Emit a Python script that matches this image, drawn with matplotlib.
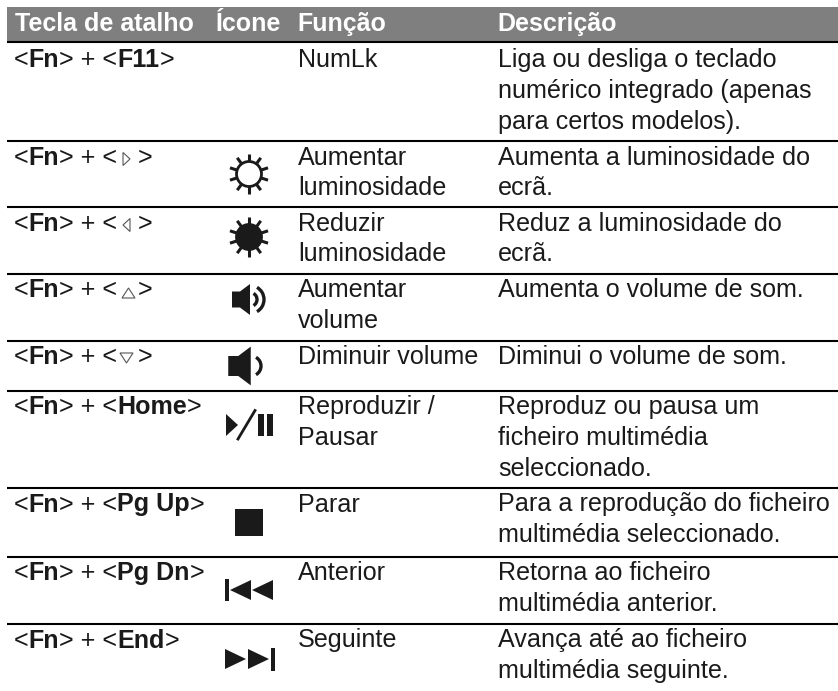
import numpy as np
import matplotlib
matplotlib.use('Agg')
import matplotlib.pyplot as plt
from matplotlib.patches import Rectangle, Polygon, Circle, Arc

# Dados da tabela
cabecalho = ['Tecla de atalho', 'Ícone', 'Função', 'Descrição']
teclas = ['F11', 'dir', 'esq', 'cima', 'baixo', 'Home', 'Pg Up', 'Pg Dn', 'End']
funcoes = [['NumLk'], ['Aumentar', 'luminosidade'], ['Reduzir', 'luminosidade'],
           ['Aumentar', 'volume'], ['Diminuir volume'], ['Reproduzir /', 'Pausar'],
           ['Parar'], ['Anterior'], ['Seguinte']]
descricoes = [['Liga ou desliga o teclado', 'numérico integrado (apenas', 'para certos modelos).'],
              ['Aumenta a luminosidade do', 'ecrã.'],
              ['Reduz a luminosidade do', 'ecrã.'],
              ['Aumenta o volume de som.'],
              ['Diminui o volume de som.'],
              ['Reproduz ou pausa um', 'ficheiro multimédia', 'seleccionado.'],
              ['Para a reprodução do ficheiro', 'multimédia seleccionado.'],
              ['Retorna ao ficheiro', 'multimédia anterior.'],
              ['Avança até ao ficheiro', 'multimédia seguinte.']]
icones = ['', 'sol', 'sol_cheio', 'som_alto', 'som_baixo', 'play', 'stop', 'ant', 'seg']

# Separadores das linhas (em pixels)
topos = [42, 141, 207, 273.5, 340.5, 390.5, 488, 556.5, 624]

plt.rcParams['font.family'] = 'Liberation Sans'
COR = '#1a1a1a'
TAM = 18.1
ENTRE = 30.8

fig = plt.figure(figsize=(8.38, 6.91), dpi=100)
ax = fig.add_axes([0, 0, 1, 1])
ax.set_xlim(0, 838)
ax.set_ylim(691, 0)
ax.axis('off')
render = fig.canvas.get_renderer()


def largura(s, **kw):
    # mede com um ponto no fim para contar os espaços
    a = ax.text(0, 0, s + '.', fontsize=TAM, **kw)
    b = ax.text(0, 0, '.', fontsize=TAM, **kw)
    w = a.get_window_extent(render).width - b.get_window_extent(render).width
    a.remove()
    b.remove()
    return w


def partes(x, y, lista):
    for s, peso in lista:
        ax.text(x, y, s, fontsize=TAM, fontweight=peso, color=COR, va='baseline')
        x += largura(s, fontweight=peso)
    return x


def seta(tipo, y):
    # triângulo pequeno da tecla de seta
    pts = {'dir': [(123, -12), (123, 1), (130, -5.5)],
           'esq': [(130, -12), (130, 1), (123, -5.5)],
           'cima': [(122, 1), (135, 1), (128.5, -9)],
           'baixo': [(120, -11), (133, -11), (126.5, -1)]}[tipo]
    ax.add_patch(Polygon([(a, y + b) for a, b in pts], closed=True, fc='white', ec='#555555', lw=0.8))


def sol(cx, cy, cheio):
    # dez raios à volta do círculo
    for ang in np.arange(18, 378, 36):
        r = np.radians(ang)
        ax.plot([cx + 11 * np.cos(r), cx + 20 * np.cos(r)],
                [cy + 11 * np.sin(r), cy + 20 * np.sin(r)], color=COR, lw=2.2, solid_capstyle='butt')
    ax.add_patch(Circle((cx, cy), 12.5, fc=COR if cheio else 'white', ec=COR, lw=2.0, zorder=3))


def falante(cx, cy, esc, arcos):
    pts = [(-19, -8), (-11, -8), (-1, -15.5), (-1, 15.5), (-11, 8), (-19, 8)]
    ax.add_patch(Polygon([(cx + a * esc, cy + b * esc) for a, b in pts], closed=True, fc=COR, ec='none'))
    for r in arcos:
        ax.add_patch(Arc((cx - 1, cy), 2 * r, 2 * r, theta1=-60, theta2=60, color=COR, lw=2.4))


def icone(tipo):
    if tipo == 'sol':
        sol(249, 174, False)
    elif tipo == 'sol_cheio':
        sol(249, 237, True)
    elif tipo == 'som_alto':
        falante(251, 299.5, 1.0, [7, 14])
    elif tipo == 'som_baixo':
        falante(252, 366, 1.25, [10])
    elif tipo == 'play':
        ax.add_patch(Polygon([(226, 414), (238, 425), (226, 436)], closed=True, fc=COR, ec='none'))
        ax.plot([238, 255], [439, 410.5], color=COR, lw=2.0)
        ax.add_patch(Rectangle((258, 414), 5.5, 22, fc=COR, ec='none'))
        ax.add_patch(Rectangle((267, 414), 5.5, 22, fc=COR, ec='none'))
    elif tipo == 'stop':
        ax.add_patch(Rectangle((235, 509), 28, 27, fc=COR, ec='none'))
    elif tipo == 'ant':
        ax.add_patch(Rectangle((225, 579), 4, 22, fc=COR, ec='none'))
        ax.add_patch(Polygon([(230, 590), (251, 580), (251, 600)], closed=True, fc=COR, ec='none'))
        ax.add_patch(Polygon([(252, 590), (273, 580), (273, 600)], closed=True, fc=COR, ec='none'))
    elif tipo == 'seg':
        ax.add_patch(Polygon([(225, 649), (246, 659), (225, 669)], closed=True, fc=COR, ec='none'))
        ax.add_patch(Polygon([(248, 649), (269, 659), (248, 669)], closed=True, fc=COR, ec='none'))
        ax.add_patch(Rectangle((271, 648), 4, 23, fc=COR, ec='none'))


# Cabeçalho
ax.add_patch(Rectangle((7, 7), 831, 34, fc='#7f7f7f', ec='none'))
for s, x in zip(cabecalho, [15, 216, 297.5, 497.5]):
    ax.text(x, 30.5, s, fontsize=18, fontweight='bold', color='white', va='baseline')

# Linhas horizontais
for y in topos:
    ax.plot([7, 838], [y, y], color='black', lw=1.5, solid_capstyle='butt')

# Linhas da tabela
for i, t in enumerate(teclas):
    y = topos[i] + (25 if i == 0 else 23.5)
    if t in ('dir', 'esq', 'cima', 'baixo'):
        partes(14, y, [('<', 'normal'), ('Fn', 'bold'), ('> + <', 'normal')])
        seta(t, y)
        ax.text(138, y, '>', fontsize=TAM, color=COR, va='baseline')
    else:
        partes(14, y, [('<', 'normal'), ('Fn', 'bold'), ('> + <', 'normal'), (t, 'bold'), ('>', 'normal')])
    for k, s in enumerate(funcoes[i]):
        ax.text(298, y + k * ENTRE, s, fontsize=TAM, color=COR, va='baseline')
    for k, s in enumerate(descricoes[i]):
        ax.text(498, y + k * ENTRE, s, fontsize=TAM, color=COR, va='baseline')
    icone(icones[i])

fig.savefig('out.png', dpi=100)
